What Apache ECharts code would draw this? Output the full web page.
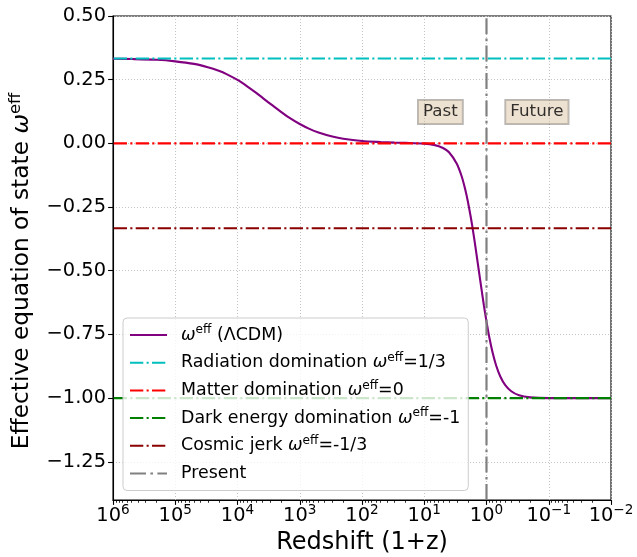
<!DOCTYPE html>
<html>
<head>
<meta charset="utf-8">
<script src="https://cdn.jsdelivr.net/npm/echarts@6/dist/echarts.min.js"></script>
<style>
html,body{margin:0;padding:0;background:#fff;}
#chart{width:637px;height:557px;}
</style>
</head>
<body>
<div id="chart"></div>
<script>
// ---- data ----
const redshift = [1e6, 5e5, 2e5, 1e5, 5e4, 3e4, 2e4, 1.5e4, 1e4, 7e3, 5e3, 3e3, 2e3, 1.5e3, 1e3, 700, 500, 300, 200, 100, 50, 30, 20, 10, 7, 5, 4, 3, 2.5, 2.2, 2, 1.8, 1.7, 1.6, 1.5, 1.4, 1.3, 1.2, 1.1, 1.0, 0.9, 0.8, 0.7, 0.6, 0.5, 0.4, 0.3, 0.2, 0.1, 0.05, 0.01];
const wEff = [0.332, 0.331, 0.328, 0.322, 0.312, 0.299, 0.285, 0.272, 0.249, 0.224, 0.198, 0.156, 0.124, 0.102, 0.076, 0.057, 0.043, 0.027, 0.018, 0.009, 0.005, 0.003, 0.002, -0.001, -0.006, -0.018, -0.035, -0.080, -0.130, -0.180, -0.226, -0.286, -0.322, -0.363, -0.409, -0.460, -0.515, -0.574, -0.637, -0.700, -0.762, -0.820, -0.872, -0.915, -0.949, -0.973, -0.989, -0.997, -1.000, -1.000, -1.000];

const refNames = ['Radiation domination', 'Matter domination', 'Dark energy domination', 'Cosmic jerk'];
const refLevels = [1/3, 0, -1, -1/3];
const refLabels = ['=1/3', '=0', '=-1', '=-1/3'];
const refColors = ['#00bfbf', '#ff0000', '#008000', '#8b0000'];

const presentX = 1;
const xRange = [0.01, 1e6];
const yRange = [-1.4, 0.5];
const yTicks = [-1.25, -1.0, -0.75, -0.5, -0.25, 0, 0.25, 0.5];
const xTickExps = [6, 5, 4, 3, 2, 1, 0, -1, -2];

const annotTexts = ['Past', 'Future'];
const annotX = [5.5, 0.155];
const annotY = [0.123, 0.123];

// ---- chart ----
const FONT = 'DejaVu Sans';
const dashDot = [13.3, 3.3, 2.1, 3.3];
const minorTicks = [];
for (let n = -2; n < 6; n++) for (let k = 2; k <= 9; k++) minorTicks.push(Math.log10(k) + n);

const legendRich = {
  w: {fontStyle: 'italic', fontSize: 17.4, fontFamily: FONT, color: '#000', lineHeight: 22},
  s: {fontSize: 12.2, fontFamily: FONT, color: '#000', lineHeight: 9, verticalAlign: 'top'}
};
const sup = '{w|ω}{s|eff}';

const mainName = 'weff (ΛCDM)';
const legendMap = {};
legendMap[mainName] = sup + ' (ΛCDM)';
refNames.forEach((n, i) => { legendMap[n] = n + ' ' + sup + refLabels[i]; });
legendMap['Present'] = 'Present';

const series = [];
series.push({
  name: mainName, type: 'line', symbol: 'none', smooth: 0.3,
  data: redshift.map((x, i) => [x, wEff[i]]),
  lineStyle: {color: '#800080', width: 2.1}, itemStyle: {color: '#800080'},
  z: 2
});
refNames.forEach((n, i) => {
  series.push({
    name: n, type: 'line', symbol: 'none',
    data: [[xRange[0], refLevels[i]], [xRange[1], refLevels[i]]],
    lineStyle: {color: refColors[i], width: 2.1, type: dashDot},
    itemStyle: {color: refColors[i]}, z: 3
  });
});
const presentStyle = {color: '#808080', width: 2.2, type: [16, 4.4, 2.6, 4.4]};
series.push({
  name: 'Present', type: 'line', symbol: 'none',
  data: [[presentX, yRange[0]], [presentX, yRange[1]]],
  lineStyle: presentStyle,
  itemStyle: {color: '#808080'}, z: 3
});
series.push({
  name: 'annot', type: 'scatter', symbolSize: 0,
  data: annotTexts.map((t, i) => ({name: t, value: [annotX[i], annotY[i]]})),
  itemStyle: {color: 'transparent'},
  label: {
    show: true, position: 'inside', formatter: p => p.name,
    fontFamily: FONT, fontSize: 16.7, color: '#000',
    backgroundColor: 'rgba(210,180,140,0.5)', borderColor: 'rgba(0,0,0,0.35)', borderWidth: 1,
    padding: [4, 5, 3, 5]
  },
  silent: true, z: 5
});

const option = {
  animation: false,
  grid: {left: 113, right: 26, top: 16, bottom: 57, show: true, borderColor: '#000', borderWidth: 1.1, outerBoundsMode: 'none', containLabel: false},
  xAxis: [{
    type: 'log', logBase: 10, min: xRange[0], max: xRange[1], inverse: true, splitNumber: 8,
    name: 'Redshift (1+z)', nameLocation: 'middle', nameGap: 31,
    nameTextStyle: {fontFamily: FONT, fontSize: 24, color: '#000'},
    axisLine: {show: true, onZero: false, lineStyle: {color: '#000', width: 1.1}},
    axisTick: {show: true, length: 4.9, lineStyle: {color: '#000', width: 1.1}},
    axisLabel: {
      margin: 3, fontFamily: FONT, color: '#000',
      formatter: v => {
        const e = Math.round(Math.log10(v));
        if (xTickExps.indexOf(e) < 0) return '';
        return '{b|10}{s|' + (e < 0 ? '\u2212' + (-e) : e) + '}';
      },
      rich: {
        b: {fontSize: 19.4, fontFamily: FONT, color: '#000', lineHeight: 26},
        s: {fontSize: 13.6, fontFamily: FONT, color: '#000', lineHeight: 10, verticalAlign: 'top'}
      }
    },
    splitLine: {show: true, lineStyle: {color: '#c4c4c4', width: 1, type: [1, 2]}}
  }, {
    type: 'value', min: -2, max: 6, inverse: true, position: 'bottom',
    axisLine: {show: false, onZero: false}, axisLabel: {show: false}, splitLine: {show: false},
    axisTick: {show: true, length: 2.8, customValues: minorTicks, lineStyle: {color: '#000', width: 0.8}}
  }],
  yAxis: {
    type: 'value', min: yRange[0], max: yRange[1],
    name: 'Effective equation of state ' + sup, nameLocation: 'middle', nameGap: 72,
    nameTextStyle: {
      fontFamily: FONT, fontSize: 23.3, color: '#000', lineHeight: 28,
      padding: [0, 26, 0, 0],
      rich: {
        w: {fontStyle: 'italic', fontSize: 23.3, fontFamily: FONT, color: '#000', lineHeight: 28},
        s: {fontSize: 16.3, fontFamily: FONT, color: '#000', lineHeight: 12, verticalAlign: 'top'}
      }
    },
    axisLine: {show: true, onZero: false, lineStyle: {color: '#000', width: 1.1}},
    axisTick: {show: true, length: 4.9, customValues: yTicks, lineStyle: {color: '#000', width: 1.1}},
    axisLabel: {
      customValues: yTicks, margin: 7, fontFamily: FONT, fontSize: 19.4, color: '#000',
      formatter: v => (v < 0 ? '\u2212' : '') + Math.abs(v).toFixed(2)
    },
    splitLine: {show: true, lineStyle: {color: '#c4c4c4', width: 1, type: [1, 2]}}
  },
  legend: {
    data: [mainName].concat(refNames, ['Present']),
    orient: 'vertical', left: 123, top: 318, padding: [6, 8, 6, 6],
    itemWidth: 37, itemHeight: 14, itemGap: 5.7,
    itemStyle: {opacity: 0, borderWidth: 0},
    backgroundColor: 'rgba(255,255,255,0.8)', borderColor: '#cccccc', borderWidth: 1, borderRadius: 4,
    formatter: n => legendMap[n],
    textStyle: {fontFamily: FONT, fontSize: 17.4, color: '#000', lineHeight: 22, padding: [0, 0, 0, 9], rich: legendRich},
    selectedMode: false
  },
  series: series
};

const chart = echarts.init(document.getElementById('chart'), null, {renderer: 'canvas'});
chart.setOption(option);
</script>
</body>
</html>
